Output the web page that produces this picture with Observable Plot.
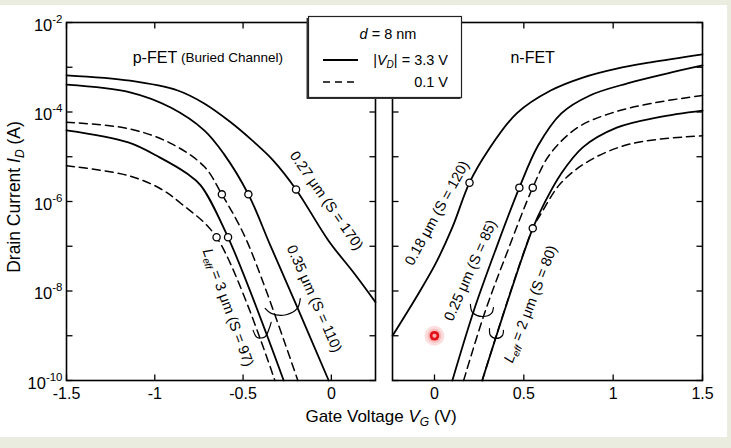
<!DOCTYPE html>
<html><head><meta charset="utf-8">
<script src="https://cdn.jsdelivr.net/npm/d3@7"></script>
<script src="https://cdn.jsdelivr.net/npm/@observablehq/plot@0.6"></script>
<style>
html,body{margin:0;padding:0;background:#e9ecdf;}
#wrap{position:relative;width:731px;height:448px;overflow:hidden;font-family:"Liberation Sans",Arial,Helvetica,sans-serif;}
#paper{position:absolute;left:0;top:5px;width:727px;height:432px;background:#fff;}
#wrap > svg{position:absolute;left:0;top:0;}
</style></head><body><div id="wrap"><div id="paper"></div></div>
<script>
// ---------------- data (gate voltage V, log10 of drain current A) ----------------
// p-FET panel
const pV_027 = [-1.5,-1.14,-0.87,-0.72,-0.57,-0.45,-0.33,-0.2,-0.017,0.13,0.25];
const pL_027 = [-3.18,-3.30,-3.52,-3.81,-4.23,-4.63,-5.08,-5.73,-6.87,-7.61,-8.25];
const pV_035 = [-1.5,-1.14,-0.91,-0.72,-0.61,-0.47,-0.35,-0.2,-0.015];
const pL_035 = [-3.39,-3.56,-3.9,-4.41,-4.93,-5.84,-6.94,-8.3,-10];
const pV_035d = [-1.5,-1.15,-0.91,-0.72,-0.62,-0.48,-0.19];
const pL_035d = [-4.23,-4.37,-4.70,-5.22,-5.84,-6.87,-10];
const pV_3 = [-1.5,-1.15,-0.97,-0.82,-0.74,-0.585,-0.27];
const pL_3 = [-4.41,-4.68,-5.02,-5.37,-5.64,-6.8,-10];
const pV_3d = [-1.5,-1.15,-0.97,-0.85,-0.65,-0.32];
const pL_3d = [-5.2,-5.42,-5.71,-6.05,-6.8,-10];
// n-FET panel
const nV_018 = [-0.235,-0.09,0.006,0.1,0.196,0.3,0.46,0.65,0.83,1.02,1.21,1.5];
const nL_018 = [-9.0,-8.06,-7.39,-6.58,-5.58,-4.86,-4.03,-3.52,-3.23,-3.03,-2.89,-2.71];
const nV_025 = [0.1,0.22,0.34,0.475,0.58,0.71,0.87,1.08,1.3,1.5];
const nL_025 = [-10,-8.44,-7.1,-5.69,-4.75,-4.03,-3.63,-3.36,-3.14,-2.96];
const nV_025d = [0.163,0.285,0.41,0.55,0.645,0.8,0.985,1.21,1.5];
const nL_025d = [-10,-8.44,-7.1,-5.69,-4.95,-4.35,-4.03,-3.81,-3.63];
const nV_2 = [0.267,0.55,0.62,0.705,0.83,1.02,1.25,1.5];
const nL_2 = [-10,-6.6,-6.0,-5.4,-4.79,-4.35,-4.12,-3.97];
const nV_2d = [0.267,0.55,0.6,0.705,0.87,1.11,1.5];
const nL_2d = [-10,-6.6,-6.25,-5.6,-5.08,-4.7,-4.53];
// open-circle markers
const pCircV = [-0.2,-0.47,-0.62,-0.585,-0.65];
const pCircL = [-5.73,-5.84,-5.84,-6.8,-6.8];
const nCircV = [0.196,0.475,0.55,0.55];
const nCircL = [-5.58,-5.69,-5.69,-6.6];
// bracket annotations
const pBr035V = [-0.375,-0.341,-0.256,-0.193,-0.176];
const pBr035L = [-8.39,-8.50,-8.53,-8.39,-8.17];
const pBr3V = [-0.443,-0.420,-0.375,-0.352,-0.341];
const pBr3L = [-8.88,-9.04,-9.02,-8.84,-8.70];
const nBr025V = [0.201,0.213,0.269,0.319,0.330];
const nBr025L = [-8.30,-8.48,-8.57,-8.50,-8.37];
const nBr2V = [0.308,0.313,0.347,0.381,0.386];
const nBr2L = [-8.84,-8.99,-9.06,-8.99,-8.88];
// curve labels
const pLabText = ["0.27 μm (S = 170)","0.35 μm (S = 110)","Leff = 3 μm (S = 97)"];
const pLabV = [-0.028,-0.097,-0.585];
const pLabL = [-5.98,-8.17,-8.37];
const pLabRot = [55,66,70];
const nLabText = ["0.18 μm (S = 120)","0.25 μm (S = 85)","Leff = 2 μm (S = 80)"];
const nLabV = [0.014,0.201,0.537];
const nLabL = [-6.26,-7.54,-8.29];
const nLabRot = [-61,-66,-69];
// ticks
const pXTicks = [-1.5,-1,-0.5,0];
const nXTicks = [0,0.5,1,1.5];
const yTicksAll = [1e-2,1e-3,1e-4,1e-5,1e-6,1e-7,1e-8,1e-9,1e-10];
const yTickLabels = [1e-2,1e-4,1e-6,1e-8,1e-10];
// highlighted point
const redV = [0];
const redL = [-9];

// ---------------- helpers ----------------
const FONT = '"Liberation Sans", Arial, Helvetica, sans-serif';
const pts = (V, L, extra = {}) => V.map((v, i) => ({V: v, I: 10 ** L[i], ...extra}));
const T = 6;
const tickUp = {draw(c){c.moveTo(0,0);c.lineTo(0,-T);}};
const tickDown = {draw(c){c.moveTo(0,0);c.lineTo(0,T);}};
const tickRight = {draw(c){c.moveTo(0,0);c.lineTo(T,0);}};
const tickLeft = {draw(c){c.moveTo(0,0);c.lineTo(-T,0);}};
const tickMarks = (xt) => [
  Plot.dot(xt, {x: d => d, frameAnchor: "bottom", symbol: tickUp, stroke: "black", fill: "none", strokeWidth: 1.3, r: 3}),
  Plot.dot(xt, {x: d => d, frameAnchor: "top", symbol: tickDown, stroke: "black", fill: "none", strokeWidth: 1.3, r: 3}),
  Plot.dot(yTicksAll, {y: d => d, frameAnchor: "left", symbol: tickRight, stroke: "black", fill: "none", strokeWidth: 1.3, r: 3}),
  Plot.dot(yTicksAll, {y: d => d, frameAnchor: "right", symbol: tickLeft, stroke: "black", fill: "none", strokeWidth: 1.3, r: 3})
];
const solid = (rows) => Plot.line(rows, {x: "V", y: "I", z: "name", stroke: "black", strokeWidth: 1.8, curve: "catmull-rom"});
const dashed = (rows) => Plot.line(rows, {x: "V", y: "I", z: "name", stroke: "black", strokeWidth: 1.5, strokeDasharray: "8,5", curve: "catmull-rom"});
const bracket = (rows) => Plot.line(rows, {x: "V", y: "I", z: "name", stroke: "black", strokeWidth: 1.2, curve: "catmull-rom"});
const circles = (rows) => Plot.dot(rows, {x: "V", y: "I", r: 3.6, fill: "white", stroke: "black", strokeWidth: 1.3});
const labels = (texts, V, L, R) => Plot.text(texts.map((t, i) => ({t, V: V[i], I: 10 ** L[i], r: R[i]})),
  {x: "V", y: "I", text: "t", rotate: "r", fontSize: 14.5, fill: "black", textAnchor: "middle", lineAnchor: "middle"});
const fmtX = d => String(d);

const common = {
  width: 731, height: 448, marginTop: 22, marginBottom: 68,
  y: {type: "log", domain: [1e-10, 1e-2], axis: null},
  style: {background: "transparent", fontFamily: FONT, fontSize: "16px", overflow: "visible", color: "black"}
};

// ---------------- p-FET panel ----------------
const pSolid = [...pts(pV_027, pL_027, {name: "0.27"}), ...pts(pV_035, pL_035, {name: "0.35"}), ...pts(pV_3, pL_3, {name: "3"})];
const pDash = [...pts(pV_035d, pL_035d, {name: "0.35"}), ...pts(pV_3d, pL_3d, {name: "3"})];
const pBr = [...pts(pBr035V, pBr035L, {name: "a"}), ...pts(pBr3V, pBr3L, {name: "b"})];

const left = Plot.plot({
  ...common, marginLeft: 66, marginRight: 731 - 375,
  x: {domain: [-1.5, 0.25], axis: null},
  marks: [
    solid(pSolid), dashed(pDash), bracket(pBr),
    circles(pts(pCircV, pCircL)),
    labels(pLabText, pLabV, pLabL, pLabRot),
    Plot.text([{V: -1.125, I: 10 ** -2.78, t: "p-FET"}], {x: "V", y: "I", text: "t", textAnchor: "start", fontSize: 16}),
    Plot.text([{V: -0.852, I: 10 ** -2.78, t: "(Buried Channel)"}], {x: "V", y: "I", text: "t", textAnchor: "start", fontSize: 13.5}),
    ...tickMarks(pXTicks),
    Plot.frame({stroke: "black", strokeWidth: 1.6}),
    Plot.axisX({ticks: pXTicks, tickSize: 0, tickPadding: 7, tickFormat: fmtX, label: null, fontSize: 16}),
    Plot.axisY({ticks: yTickLabels, tickSize: 0, tickPadding: 4, tickFormat: d => "10^" + Math.round(Math.log10(d)), label: null, fontSize: 16.5})
  ]
});

// ---------------- n-FET panel ----------------
const nSolid = [...pts(nV_018, nL_018, {name: "0.18"}), ...pts(nV_025, nL_025, {name: "0.25"}), ...pts(nV_2, nL_2, {name: "2"})];
const nDash = [...pts(nV_025d, nL_025d, {name: "0.25"}), ...pts(nV_2d, nL_2d, {name: "2"})];
const nBr = [...pts(nBr025V, nBr025L, {name: "a"}), ...pts(nBr2V, nBr2L, {name: "b"})];
const red = pts(redV, redL);

const right = Plot.plot({
  ...common, marginLeft: 392, marginRight: 731 - 702,
  x: {domain: [-0.235, 1.5], axis: null},
  marks: [
    Plot.dot(red, {x: "V", y: "I", r: 10, fill: "#f26a6a", fillOpacity: 0.22}),
    Plot.dot(red, {x: "V", y: "I", r: 7, fill: "#f26a6a", fillOpacity: 0.3}),
    Plot.dot(red, {x: "V", y: "I", r: 4.8, fill: "#e3121c"}),
    Plot.dot(red, {x: "V", y: "I", r: 2.1, fill: "#ffb0b0"}),
    solid(nSolid), dashed(nDash), bracket(nBr),
    circles(pts(nCircV, nCircL)),
    labels(nLabText, nLabV, nLabL, nLabRot),
    Plot.text([{V: 0.425, I: 10 ** -2.78, t: "n-FET"}], {x: "V", y: "I", text: "t", textAnchor: "start", fontSize: 16}),
    ...tickMarks(nXTicks),
    Plot.frame({stroke: "black", strokeWidth: 1.6}),
    Plot.axisX({ticks: nXTicks, tickSize: 0, tickPadding: 7, tickFormat: fmtX, label: null, fontSize: 16})
  ]
});

const wrap = document.getElementById("wrap");
wrap.appendChild(left);
wrap.appendChild(right);

// superscript exponents on y tick labels
left.querySelectorAll('g[aria-label="y-axis tick label"] text').forEach(t => {
  const [b, e] = t.textContent.split("^");
  t.textContent = "";
  const s1 = document.createElementNS("http://www.w3.org/2000/svg", "tspan");
  s1.setAttribute("dy", "3"); s1.textContent = b;
  const s2 = document.createElementNS("http://www.w3.org/2000/svg", "tspan");
  s2.setAttribute("dy", "-8"); s2.setAttribute("font-size", "11.5"); s2.textContent = e;
  t.appendChild(s1); t.appendChild(s2);
});
// L_eff subscripts on curve labels
[left, right].forEach(svg => svg.querySelectorAll("text").forEach(t => {
  if (t.textContent.startsWith("Leff")) {
    const rest = t.textContent.slice(4);
    t.innerHTML = `<tspan font-style="italic">L</tspan><tspan font-style="italic" font-size="10" dy="3">eff</tspan><tspan dy="-3">${rest}</tspan>`;
  }
}));

// ---------------- overlay: axis titles and key ----------------
const ov = d3.select(wrap).append("svg").attr("width", 731).attr("height", 448)
  .style("font-family", FONT).style("overflow", "visible");
const xt = ov.append("text").attr("x", 381).attr("y", 422).attr("text-anchor", "middle").attr("font-size", 17);
xt.append("tspan").text("Gate Voltage  ");
xt.append("tspan").attr("font-style", "italic").text("V");
xt.append("tspan").attr("font-style", "italic").attr("font-size", 12).attr("dy", 4).text("G");
xt.append("tspan").attr("dy", -4).text("  (V)");
const yt = ov.append("text").attr("transform", "translate(20,197) rotate(-90)").attr("text-anchor", "middle").attr("font-size", 17.5);
yt.append("tspan").text("Drain Current   ");
yt.append("tspan").attr("font-style", "italic").text("I");
yt.append("tspan").attr("font-style", "italic").attr("font-size", 12).attr("dy", 4).text("D");
yt.append("tspan").attr("dy", -4).text("  (A)");

const key = ov.append("g");
key.append("rect").attr("x", 306.5).attr("y", 18).attr("width", 154).attr("height", 81).attr("fill", "#333");
key.append("rect").attr("x", 308.5).attr("y", 16.5).attr("width", 153).attr("height", 81)
  .attr("fill", "white").attr("stroke", "#222").attr("stroke-width", 1.2);
const k1 = key.append("text").attr("x", 388).attr("y", 39).attr("text-anchor", "middle").attr("font-size", 14.5);
k1.append("tspan").attr("font-style", "italic").text("d");
k1.append("tspan").text("  =  8 nm");
key.append("line").attr("x1", 323).attr("x2", 358).attr("y1", 60).attr("y2", 60).attr("stroke", "black").attr("stroke-width", 1.8);
key.append("line").attr("x1", 323).attr("x2", 358).attr("y1", 82).attr("y2", 82).attr("stroke", "black").attr("stroke-width", 1.5).attr("stroke-dasharray", "7,5");
const k2 = key.append("text").attr("x", 448).attr("y", 65).attr("text-anchor", "end").attr("font-size", 14.5);
k2.append("tspan").text("|");
k2.append("tspan").attr("font-style", "italic").text("V");
k2.append("tspan").attr("font-style", "italic").attr("font-size", 10).attr("dy", 3).text("D");
k2.append("tspan").attr("dy", -3).text("| = 3.3 V");
key.append("text").attr("x", 448).attr("y", 87).attr("text-anchor", "end").attr("font-size", 14.5).text("0.1 V");
</script></body></html>
